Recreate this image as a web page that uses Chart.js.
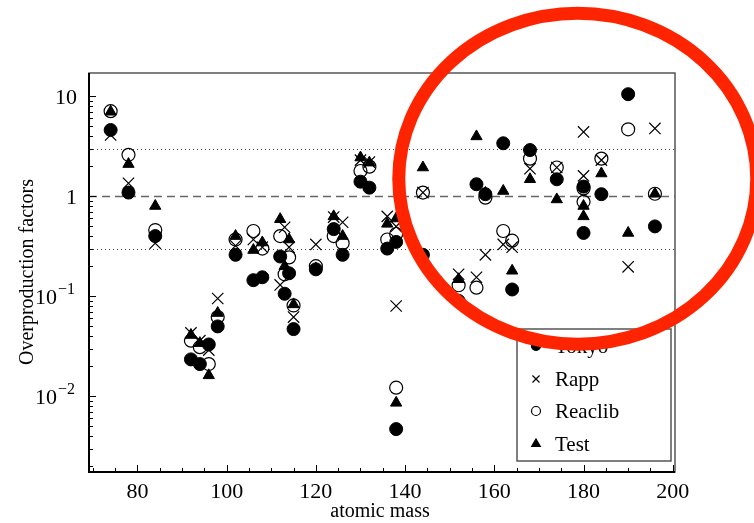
<!DOCTYPE html>
<html>
<head>
<meta charset="utf-8">
<script src="https://cdn.jsdelivr.net/npm/chart.js@4/dist/chart.umd.min.js"></script>
<style>
  body { margin: 0; background: #fff; }
  canvas { display: block; }
</style>
</head>
<body>
<canvas id="chart-1" width="754" height="523"></canvas>
<script>
// p-nuclei mass numbers (113 In / 112 Sn, 138 La / 138 Ce, 180 Ta / 180 W share masses)
const masses = [74, 78, 84, 92, 94, 96, 98, 102, 106, 108, 113, 112, 114, 115, 120, 124, 126, 130, 132,
  138, 136, 138, 144, 152, 156, 158, 162, 164, 168, 174, 180, 180, 184, 190, 196];

const tokyo = [4.6, 1.09, 0.40, 0.0234, 0.021, 0.033, 0.050, 0.26, 0.145, 0.155, 0.106, 0.25, 0.17, 0.047, 0.186,
  0.47, 0.26, 1.40, 1.22, 0.0047, 0.30, 0.35, 0.26, 0.090, 1.32, 1.05, 3.39, 0.117, 2.9, 1.48, 1.25, 0.43, 1.05, 10.5, 0.50];
const rapp = [4.1, 1.35, 0.34, 0.043, 0.036, 0.029, 0.095, 0.32, 0.37, 0.31, 0.49, 0.13, 0.31, 0.062, 0.33,
  0.62, 0.55, 2.3, 2.2, 0.080, 0.63, 0.50, 1.09, 0.166, 0.155, 0.26, 0.33, 0.31, 1.89, 1.94, 4.4, 1.6, 2.3, 0.197, 4.77];
const reaclib = [7.1, 2.6, 0.46, 0.036, 0.031, 0.021, 0.062, 0.37, 0.45, 0.30, 0.166, 0.40, 0.245, 0.081, 0.20,
  0.40, 0.34, 1.79, 1.98, 0.0122, 0.37, 0.42, 1.09, 0.129, 0.122, 0.97, 0.45, 0.36, 2.38, 1.94, 1.2, 0.88, 2.38, 4.68, 1.06];
const test = [7.0, 2.1, 0.80, 0.041, 0.034, 0.0162, 0.068, 0.40, 0.29, 0.345, 0.20, 0.59, 0.37, 0.083, 0.19,
  0.63, 0.40, 2.44, 2.17, 0.0086, 0.53, 0.60, 1.94, 0.148, 3.97, 1.08, 1.13, 0.18, 1.48, 0.93, 0.80, 0.63, 1.69, 0.43, 1.06];

const seriesNames = ["Tokyo", "Rapp", "Reaclib", "Test"];

// axis ticks
const xTickValues = [80, 100, 120, 140, 160, 180, 200];
const yTickValues = [10, 1, 0.1, 0.01];
const yTickBase = ["10", "1", "10", "10"];
const yTickExp = ["", "", "\u22121", "\u22122"];

// reference lines
const refLines = [3, 1, 0.3];

const SERIF = "'Liberation Serif', 'DejaVu Serif', serif";

function toPoints(ys) {
  return masses.map((m, i) => ({ x: m, y: ys[i] }));
}

// draws axes, ticks, labels, reference lines, legend and the red mark
const decorPlugin = {
  id: "decor",
  beforeDatasetsDraw(chart) {
    const { ctx, chartArea: a, scales } = chart;
    ctx.save();
    refLines.forEach((v) => {
      const py = Math.round(scales.y.getPixelForValue(v)) + 0.5;
      ctx.beginPath();
      if (v === 1) {
        ctx.setLineDash([8, 5]);
        ctx.lineWidth = 1.5;
        ctx.strokeStyle = "#666";
      } else {
        ctx.setLineDash([1, 3]);
        ctx.lineWidth = 1;
        ctx.strokeStyle = "#444";
      }
      ctx.moveTo(a.left, py);
      ctx.lineTo(a.right, py);
      ctx.stroke();
    });
    ctx.restore();
  },
  afterDraw(chart) {
    const { ctx, chartArea: a, scales } = chart;
    const xs = scales.x, ys = scales.y;
    ctx.save();

    // frame
    ctx.strokeStyle = "#555";
    ctx.lineWidth = 1.5;
    ctx.strokeRect(a.left, a.top, a.right - a.left, a.bottom - a.top);
    ctx.strokeStyle = "#000";
    ctx.lineWidth = 2;
    ctx.beginPath();
    ctx.moveTo(a.left, a.top);
    ctx.lineTo(a.left, a.bottom);
    ctx.lineTo(a.right, a.bottom);
    ctx.stroke();

    // x ticks, inward
    ctx.lineWidth = 1;
    ctx.beginPath();
    for (let v = 70; v <= 200; v += 5) {
      const px = Math.round(xs.getPixelForValue(v)) + 0.5;
      const len = v % 20 === 0 ? 7 : 4;
      ctx.moveTo(px, a.bottom);
      ctx.lineTo(px, a.bottom - len);
    }
    // y ticks, inward, log
    for (let e = -3; e <= 1; e++) {
      for (let k = 1; k <= 9; k++) {
        const v = k * Math.pow(10, e);
        if (v < ys.min || v > ys.max) continue;
        const py = Math.round(ys.getPixelForValue(v)) + 0.5;
        const len = k === 1 ? 7 : 4;
        ctx.moveTo(a.left, py);
        ctx.lineTo(a.left + len, py);
      }
    }
    ctx.stroke();

    // tick labels
    ctx.fillStyle = "#000";
    ctx.font = "22px " + SERIF;
    ctx.textAlign = "center";
    ctx.textBaseline = "middle";
    xTickValues.forEach((v) => {
      ctx.fillText(String(v), xs.getPixelForValue(v), 492);
    });
    yTickValues.forEach((v, i) => {
      const py = ys.getPixelForValue(v) + 2;
      if (yTickExp[i]) {
        ctx.font = "22px " + SERIF;
        ctx.textAlign = "right";
        ctx.fillText(yTickBase[i], 57, py);
        ctx.font = "16px " + SERIF;
        ctx.textAlign = "left";
        ctx.fillText(yTickExp[i], 58, py - 9);
      } else {
        ctx.font = "22px " + SERIF;
        ctx.textAlign = "right";
        ctx.fillText(yTickBase[i], 77, py);
      }
    });

    // axis titles
    ctx.font = "20px " + SERIF;
    ctx.textAlign = "center";
    ctx.fillText("atomic mass", 380, 512);
    ctx.save();
    ctx.translate(28, 272);
    ctx.rotate(-Math.PI / 2);
    ctx.fillText("Overproduction factors", 0, 0);
    ctx.restore();

    // legend box
    const lx = 517, ly = 329, lw = 154, lh = 132;
    ctx.fillStyle = "#fff";
    ctx.fillRect(lx, ly, lw, lh);
    ctx.strokeStyle = "#555";
    ctx.lineWidth = 1.5;
    ctx.strokeRect(lx, ly, lw, lh);
    const rows = [346, 379, 411, 444];
    chart.data.datasets.forEach((ds, i) => {
      const cy = rows[i];
      ctx.strokeStyle = "#000";
      ctx.fillStyle = ds.backgroundColor;
      ctx.lineWidth = 1.2;
      Chart.helpers.drawPoint(ctx, {
        pointStyle: ds.pointStyle,
        radius: ds.legendRadius,
        borderWidth: 1.2
      }, 536, cy);
      ctx.fillStyle = "#000";
      ctx.font = "21px " + SERIF;
      ctx.textAlign = "left";
      ctx.textBaseline = "middle";
      ctx.fillText(ds.label, 555, cy + 1);
    });

    // red ellipse mark
    ctx.strokeStyle = "rgb(255,36,0)";
    ctx.lineWidth = 13;
    ctx.beginPath();
    ctx.ellipse(xs.getPixelForValue(178.7), ys.getPixelForValue(1.5), 179, 165.5, 0, 0, Math.PI * 2);
    ctx.stroke();

    ctx.restore();
  }
};

const ctx = document.getElementById("chart-1").getContext("2d");
const myChart = new Chart(ctx, {
  type: "scatter",
  data: {
    datasets: [
      {
        label: seriesNames[0],
        data: toPoints(tokyo),
        pointStyle: "circle",
        pointRadius: 6.5,
        legendRadius: 4.5,
        backgroundColor: "#000",
        borderColor: "#000",
        borderWidth: 1,
        order: 2
      },
      {
        label: seriesNames[1],
        data: toPoints(rapp),
        pointStyle: "crossRot",
        pointRadius: 8,
        legendRadius: 5,
        backgroundColor: "#000",
        borderColor: "#000",
        borderWidth: 1.2,
        order: 3
      },
      {
        label: seriesNames[2],
        data: toPoints(reaclib),
        pointStyle: "circle",
        pointRadius: 6.5,
        legendRadius: 4.5,
        backgroundColor: "rgba(0,0,0,0)",
        borderColor: "#000",
        borderWidth: 1.2,
        order: 4
      },
      {
        label: seriesNames[3],
        data: toPoints(test),
        pointStyle: "triangle",
        pointRadius: 6.5,
        legendRadius: 5,
        backgroundColor: "#000",
        borderColor: "#000",
        borderWidth: 1,
        order: 1
      }
    ]
  },
  options: {
    responsive: false,
    animation: false,
    devicePixelRatio: 1,
    layout: { padding: { left: 89, right: 79, top: 73, bottom: 51 } },
    plugins: {
      legend: { display: false },
      tooltip: { enabled: false }
    },
    scales: {
      x: {
        type: "linear",
        min: 69.15,
        max: 200.5,
        display: false
      },
      y: {
        type: "logarithmic",
        min: 0.00175,
        max: 17.1,
        display: false
      }
    }
  },
  plugins: [decorPlugin]
});
</script>
</body>
</html>
